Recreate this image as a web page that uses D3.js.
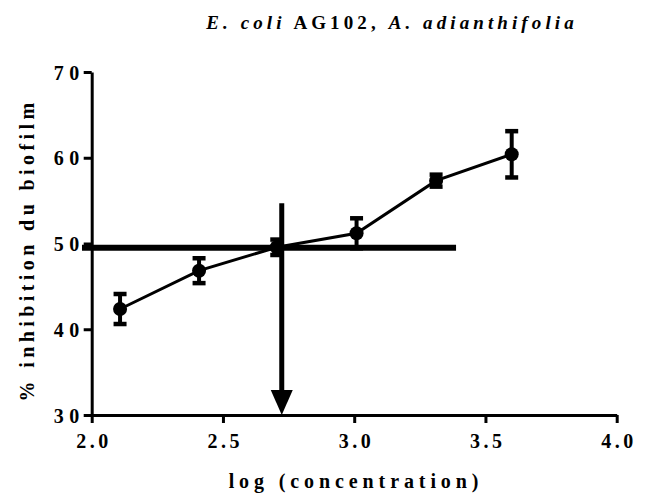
<!DOCTYPE html>
<html>
<head>
<meta charset="utf-8">
<script src="https://cdn.jsdelivr.net/npm/d3@7"></script>
<style>
  body { margin: 0; background: #fff; }
</style>
</head>
<body>
<div id="chart"></div>
<script>
'use strict';

// data
var logConc   = [2.108, 2.409, 2.705, 3.009, 3.312, 3.600];
var inhibMean = [42.36, 46.83, 49.56, 51.19, 57.33, 60.40];
var inhibErr  = [1.75, 1.45, 0.9, 1.75, 0.7, 2.7];

var xTicks = [2.0, 2.5, 3.0, 3.5, 4.0];
var yTicks = [30, 40, 50, 60, 70];

// IC50 annotation: horizontal line at 50 % level, arrow down at log IC50
var ic50Level = [49.5];
var ic50LineX = [1.963, 3.388];
var ic50LogX  = [2.724];
var ic50ArrowTop = [54.7];

var width = 647, height = 500;
var serif = "font-family: 'Liberation Serif', 'Times New Roman', Times, serif; font-weight: bold;";

var x = d3.scaleLinear().domain([2, 4]).range([91.7, 616.7]);
var y = d3.scaleLinear().domain([30, 70]).range([415, 72]);

var svg = d3.select("#chart")
            .append("svg")
            .attr("width", width)
            .attr("height", height);

// title: mixed italic / upright
var title = svg.append("text")
               .attr("x", 392)
               .attr("y", 29)
               .attr("text-anchor", "middle")
               .attr("style", serif + " font-size: 19px; letter-spacing: 4.1px;");
title.append("tspan").attr("font-style", "italic").text("E. coli");
title.append("tspan").text(" AG102, ");
title.append("tspan").attr("font-style", "italic").text("A. adianthifolia");

// axes
var xAxis = d3.axisBottom(x).tickValues(xTicks).tickFormat(d3.format(".1f")).tickSize(8).tickSizeOuter(0);
var yAxis = d3.axisLeft(y).tickValues(yTicks).tickFormat(d3.format("d")).tickSize(8).tickSizeOuter(0);

var gx = svg.append("g").attr("transform", "translate(0," + y(30) + ")").call(xAxis);
var gy = svg.append("g").attr("transform", "translate(" + x(2) + ",0)").call(yAxis);

[gx, gy].forEach(g => {
    g.select(".domain").attr("stroke", "#000").attr("stroke-width", 3);
    g.selectAll(".tick line").attr("stroke", "#000").attr("stroke-width", 3);
    g.selectAll(".tick text").attr("fill", "#000");
});
gx.selectAll(".tick text")
  .attr("style", serif + " font-size: 20px; letter-spacing: 3.5px;")
  .attr("dy", null).attr("y", 33).attr("dx", 1.7);
gy.selectAll(".tick text")
  .attr("style", serif + " font-size: 20px; letter-spacing: 5.5px;")
  .attr("x", -7).attr("dy", "0.35em");

// axis titles
svg.append("text")
   .attr("x", 356)
   .attr("y", 488)
   .attr("text-anchor", "middle")
   .attr("style", serif + " font-size: 20px; letter-spacing: 4.9px;")
   .text("log (concentration)");

svg.append("text")
   .attr("transform", "translate(34," + 250 + ") rotate(-90)")
   .attr("text-anchor", "middle")
   .attr("style", serif + " font-size: 20px; letter-spacing: 4.4px;")
   .text("% inhibition du biofilm");

var points = logConc.map((v, i) => ({x: v, y: inhibMean[i], e: inhibErr[i]}));

// connecting line
svg.append("path")
   .datum(points)
   .attr("fill", "none")
   .attr("stroke", "#000")
   .attr("stroke-width", 3)
   .attr("d", d3.line().x(d => x(d.x)).y(d => y(d.y)));

// error bars
var bars = svg.selectAll("g.err")
              .data(points)
              .enter()
              .append("g")
              .classed("err", true);

bars.append("line")
    .attr("x1", d => x(d.x)).attr("x2", d => x(d.x))
    .attr("y1", d => y(d.y + d.e)).attr("y2", d => y(d.y - d.e))
    .attr("stroke", "#000").attr("stroke-width", 4);

bars.selectAll("line.cap")
    .data(d => [{x: d.x, y: d.y + d.e}, {x: d.x, y: d.y - d.e}])
    .enter()
    .append("line")
    .classed("cap", true)
    .attr("x1", d => x(d.x) - 6.5).attr("x2", d => x(d.x) + 6.5)
    .attr("y1", d => y(d.y)).attr("y2", d => y(d.y))
    .attr("stroke", "#000").attr("stroke-width", 4.5);

// markers
svg.selectAll("circle.pt")
   .data(points)
   .enter()
   .append("circle")
   .classed("pt", true)
   .attr("cx", d => x(d.x))
   .attr("cy", d => y(d.y))
   .attr("r", 7)
   .attr("fill", "#000");

// IC50 horizontal line
svg.append("line")
   .attr("x1", x(ic50LineX[0])).attr("x2", x(ic50LineX[1]))
   .attr("y1", y(ic50Level[0])).attr("y2", y(ic50Level[0]))
   .attr("stroke", "#000").attr("stroke-width", 6);

// IC50 arrow
var ax = x(ic50LogX[0]);
var tipY = y(30);
svg.append("line")
   .attr("x1", ax).attr("x2", ax)
   .attr("y1", y(ic50ArrowTop[0])).attr("y2", tipY - 20)
   .attr("stroke", "#000").attr("stroke-width", 5);

svg.append("path")
   .attr("d", "M" + (ax - 11) + "," + (tipY - 25) + "L" + (ax + 11) + "," + (tipY - 25) + "L" + ax + "," + tipY + "Z")
   .attr("fill", "#000");
</script>
</body>
</html>
